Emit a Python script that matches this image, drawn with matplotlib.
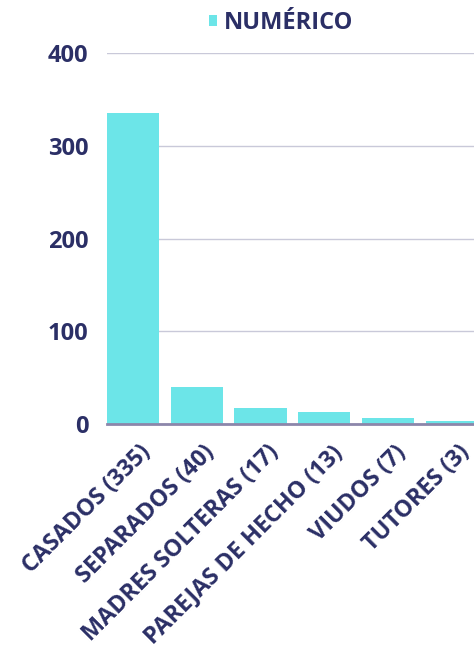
import matplotlib
matplotlib.use("Agg")
import matplotlib.pyplot as plt
import numpy as np

categories = ["CASADOS (335)", "SEPARADOS (40)", "MADRES SOLTERAS (17)",
              "PAREJAS DE HECHO (13)", "VIUDOS (7)", "TUTORES (3)"]
values = [335, 40, 17, 13, 7, 3]
yticks = [0, 100, 200, 300, 400]
series_name = "NUMÉRICO"

navy = "#2B2F66"
bar_color = "#6CE5E8"

plt.rcParams['font.family'] = ['Open Sans', 'DejaVu Sans']
plt.rcParams['font.weight'] = 'bold'

fig = plt.figure(figsize=(4.74, 6.48), dpi=100)
left = 107 / 474
cat_w = 63.7 / 474
bottom = 1 - 424 / 648
top = 1 - 53 / 648
ax = fig.add_axes([left, bottom, cat_w * 6, top - bottom])

x = np.arange(len(values))
bars = ax.bar(x, values, width=0.82, align='edge', color=bar_color,
              label=series_name, zorder=3)
ax.set_xlim(0, len(values))
ax.set_ylim(0, 400)
ax.set_yticks(yticks)
ax.set_yticklabels([str(t) for t in yticks], fontsize=17, fontweight='bold', color=navy)
ax.tick_params(axis='y', length=0, pad=13.5)
ax.tick_params(axis='x', length=0, pad=12)
ax.set_xticks(x + 0.41 + 0.1)
ax.set_xticklabels(categories, rotation=45, ha='right', rotation_mode='anchor',
                   fontsize=16.8, fontweight='bold', color=navy)
ax.grid(axis='y', color='#C9C9D9', linewidth=1, zorder=0)
for s in ['top', 'right', 'left']:
    ax.spines[s].set_visible(False)
ax.spines['bottom'].set_color('#8C86AA')
ax.spines['bottom'].set_linewidth(2)
ax.spines['bottom'].set_zorder(4)

leg = fig.legend(handles=[bars], labels=[series_name], loc='center',
                 bbox_to_anchor=(281 / 474, 1 - 23 / 648), frameon=False,
                 handlelength=0.32, handleheight=0.32, handletextpad=0.3,
                 prop={'family': ['Open Sans', 'DejaVu Sans'], 'weight': 'bold', 'size': 17})
for t in leg.get_texts():
    t.set_color(navy)

fig.savefig("out.png", dpi=100)
